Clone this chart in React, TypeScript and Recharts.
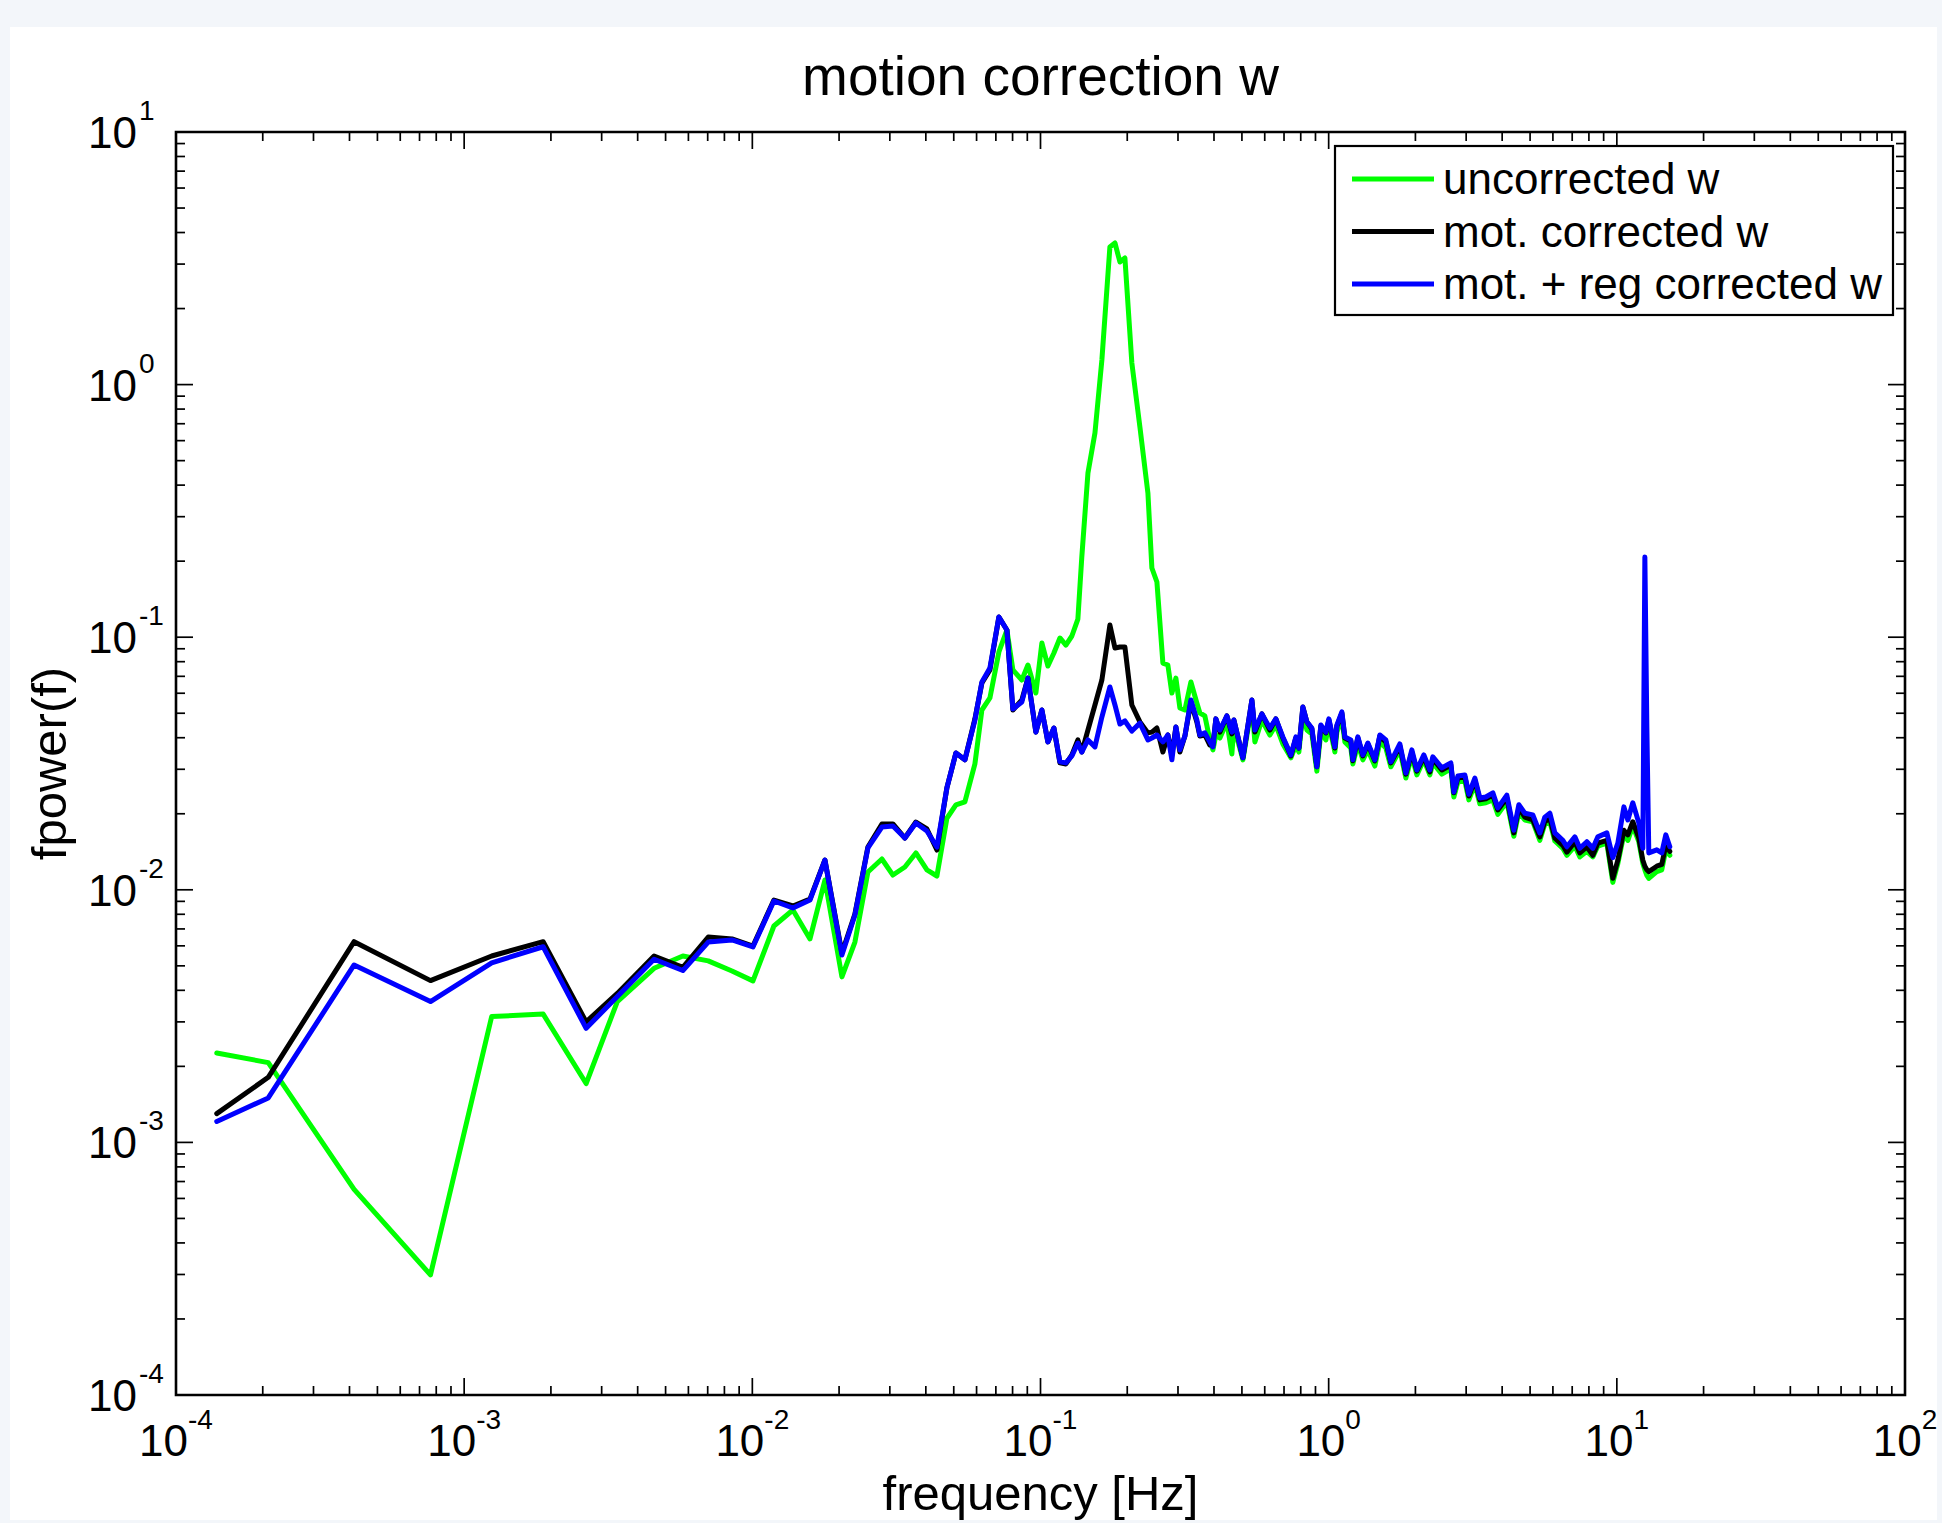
import React from 'react';
import { LineChart, Line, XAxis, YAxis, ReferenceArea } from 'recharts';

// ---------- data ----------
const freq = [
  1.385e-4, 2.09e-4, 4.15e-4, 7.64e-4, 1.246e-3, 1.88e-3, 2.65e-3, 3.4e-3, 4.56e-3, 5.74e-3,
  7.03e-3, 8.5e-3, 1.005e-2, 1.188e-2, 1.383e-2, 1.585e-2, 1.786e-2, 2.046e-2, 2.27e-2, 2.518e-2,
  2.816e-2, 3.075e-2, 3.384e-2, 3.695e-2, 4.035e-2, 4.37e-2, 4.733e-2, 5.087e-2, 5.465e-2, 5.921e-2,
  6.261e-2, 6.675e-2, 7.172e-2, 7.645e-2, 8.02e-2, 8.617e-2, 9.044e-2, 9.638e-2, 0.1011, 0.1061,
  0.1113, 0.1168, 0.1225, 0.1285, 0.1348, 0.1391, 0.1461, 0.1545, 0.1633, 0.1741,
  0.1813, 0.1886, 0.1963, 0.2075, 0.2213, 0.2359, 0.2435, 0.2535, 0.2659, 0.2767,
  0.2857, 0.295, 0.3046, 0.317, 0.3326, 0.3488, 0.3573, 0.3719, 0.387,
  0.3965, 0.4061, 0.4193, 0.4434, 0.4614, 0.4689, 0.504, 0.5414, 0.5545, 0.5864,
  0.6252, 0.6558, 0.6935, 0.7395, 0.7696, 0.7882, 0.8138, 0.8402, 0.8744, 0.9099,
  0.9395, 0.9779, 1.0016, 1.0508, 1.0678, 1.1112, 1.1382, 1.194, 1.2134, 1.2627,
  1.3143, 1.3677, 1.4463, 1.5055, 1.5794, 1.6437, 1.7663, 1.853, 1.9438, 2.023,
  2.1394, 2.2444, 2.2988, 2.4708, 2.6546, 2.7189, 2.8074, 2.9689, 3.0655, 3.2162,
  3.3467, 3.5113, 3.7134, 3.8644, 4.1526, 4.3914, 4.5704, 4.7956, 5.1105, 5.4047,
  5.6262, 5.8553, 6.0945, 6.4958, 6.7073, 7.1504, 7.4413, 7.8694, 8.255, 8.5924,
  9.2327, 9.6849, 10.08, 10.58, 10.92, 11.36, 11.92, 12.31, 12.51, 12.71,
  12.91, 13.76, 14.32, 14.79, 15.27,
];

const uncorrected = [
  2.26e-3, 2.07e-3, 6.52e-4, 2.99e-4, 3.15e-3, 3.22e-3, 1.71e-3, 3.61e-3, 4.89e-3, 5.47e-3,
  5.23e-3, 4.77e-3, 4.36e-3, 7.19e-3, 8.32e-3, 6.39e-3, 1.093e-2, 4.52e-3, 6.21e-3, 1.176e-2,
  1.324e-2, 1.144e-2, 1.231e-2, 1.399e-2, 1.198e-2, 1.134e-2, 1.92e-2, 2.17e-2, 2.23e-2, 3.15e-2,
  5.15e-2, 5.75e-2, 8.74e-2, 0.1068, 7.42e-2, 6.77e-2, 7.76e-2, 6.01e-2, 9.49e-2, 7.69e-2,
  8.66e-2, 9.93e-2, 9.31e-2, 0.1011, 0.118, 0.2077, 0.4467, 0.6434, 1.251, 3.505,
  3.636, 3.058, 3.171, 1.218, 0.6796, 0.3724, 0.1879, 0.1654, 7.9e-2, 7.76e-2,
  6.01e-2, 6.89e-2, 5.25e-2, 5.15e-2, 6.65e-2, 5.49e-2, 5.01e-2, 4.88e-2, 3.92e-2,
  3.58e-2, 4.1e-2, 3.99e-2, 4.62e-2, 3.45e-2, 4.45e-2, 3.27e-2, 5.39e-2, 3.85e-2, 4.7e-2,
  4.1e-2, 4.49e-2, 3.78e-2, 3.33e-2, 3.74e-2, 3.51e-2, 5.06e-2, 4.29e-2, 4.14e-2, 2.95e-2,
  4.21e-2, 3.92e-2, 4.53e-2, 3.51e-2, 4.21e-2, 4.79e-2, 3.85e-2, 3.64e-2, 3.15e-2, 3.78e-2,
  3.27e-2, 3.58e-2, 3.09e-2, 3.85e-2, 3.64e-2, 3.07e-2, 3.58e-2, 2.77e-2, 3.39e-2, 2.85e-2,
  3.27e-2, 2.85e-2, 3.18e-2, 2.87e-2, 3.01e-2, 2.33e-2, 2.67e-2, 2.7e-2, 2.27e-2, 2.62e-2,
  2.19e-2, 2.21e-2, 2.27e-2, 1.99e-2, 2.23e-2, 1.63e-2, 2.03e-2, 1.89e-2, 1.86e-2, 1.57e-2,
  1.82e-2, 1.86e-2, 1.56e-2, 1.46e-2, 1.37e-2, 1.49e-2, 1.35e-2, 1.42e-2, 1.35e-2, 1.49e-2,
  1.53e-2, 1.07e-2, 1.27e-2, 1.66e-2, 1.57e-2, 1.79e-2, 1.55e-2, 1.27e-2, 1.2e-2, 1.14e-2,
  1.11e-2, 1.18e-2, 1.2e-2, 1.44e-2, 1.37e-2,
];

const motCorrected = [
  1.3e-3, 1.81e-3, 6.23e-3, 4.37e-3, 5.47e-3, 6.23e-3, 3.0e-3, 3.89e-3, 5.47e-3, 4.93e-3,
  6.5e-3, 6.39e-3, 5.99e-3, 9.11e-3, 8.63e-3, 9.19e-3, 1.312e-2, 5.62e-3, 8.02e-3, 1.477e-2,
  1.822e-2, 1.822e-2, 1.603e-2, 1.855e-2, 1.741e-2, 1.437e-2, 2.53e-2, 3.48e-2, 3.27e-2, 4.75e-2,
  6.59e-2, 7.42e-2, 0.1202, 0.1068, 5.15e-2, 5.64e-2, 6.89e-2, 4.21e-2, 5.15e-2, 3.85e-2,
  4.37e-2, 3.18e-2, 3.15e-2, 3.42e-2, 3.92e-2, 3.51e-2, 4.29e-2, 5.39e-2, 6.77e-2, 0.1117,
  9.06e-2, 9.15e-2, 9.15e-2, 5.39e-2, 4.62e-2, 4.18e-2, 4.21e-2, 4.37e-2, 3.51e-2, 4.1e-2,
  3.42e-2, 4.41e-2, 3.51e-2, 4.06e-2, 5.54e-2, 4.62e-2, 4.06e-2, 4.1e-2, 3.74e-2,
  3.74e-2, 4.75e-2, 4.21e-2, 4.88e-2, 4.14e-2, 4.7e-2, 3.33e-2, 5.64e-2, 4.21e-2, 4.97e-2,
  4.29e-2, 4.75e-2, 3.99e-2, 3.39e-2, 3.99e-2, 3.64e-2, 5.29e-2, 4.62e-2, 4.33e-2, 3.07e-2,
  4.45e-2, 4.18e-2, 4.7e-2, 3.64e-2, 4.45e-2, 5.01e-2, 3.99e-2, 3.88e-2, 3.24e-2, 3.99e-2,
  3.39e-2, 3.78e-2, 3.24e-2, 4.06e-2, 3.85e-2, 3.18e-2, 3.71e-2, 2.87e-2, 3.51e-2, 2.95e-2,
  3.36e-2, 2.93e-2, 3.3e-2, 2.98e-2, 3.12e-2, 2.42e-2, 2.77e-2, 2.8e-2, 2.35e-2, 2.72e-2,
  2.27e-2, 2.29e-2, 2.37e-2, 2.07e-2, 2.31e-2, 1.68e-2, 2.11e-2, 1.94e-2, 1.89e-2, 1.62e-2,
  1.86e-2, 1.92e-2, 1.6e-2, 1.5e-2, 1.41e-2, 1.55e-2, 1.4e-2, 1.48e-2, 1.37e-2, 1.53e-2,
  1.57e-2, 1.11e-2, 1.31e-2, 1.72e-2, 1.65e-2, 1.86e-2, 1.6e-2, 1.31e-2, 1.24e-2, 1.2e-2,
  1.18e-2, 1.24e-2, 1.26e-2, 1.5e-2, 1.42e-2,
];

const motRegCorrected = [
  1.21e-3, 1.5e-3, 5.04e-3, 3.61e-3, 5.14e-3, 5.95e-3, 2.83e-3, 3.78e-3, 5.31e-3, 4.79e-3,
  6.21e-3, 6.33e-3, 5.94e-3, 9.03e-3, 8.47e-3, 9.11e-3, 1.312e-2, 5.52e-3, 7.95e-3, 1.464e-2,
  1.772e-2, 1.789e-2, 1.603e-2, 1.839e-2, 1.709e-2, 1.477e-2, 2.53e-2, 3.48e-2, 3.27e-2, 4.7e-2,
  6.65e-2, 7.55e-2, 0.1202, 0.1068, 5.2e-2, 5.54e-2, 6.89e-2, 4.21e-2, 5.15e-2, 3.85e-2,
  4.37e-2, 3.21e-2, 3.18e-2, 3.39e-2, 3.81e-2, 3.51e-2, 3.92e-2, 3.68e-2, 4.83e-2, 6.35e-2,
  5.39e-2, 4.53e-2, 4.66e-2, 4.25e-2, 4.57e-2, 3.92e-2, 3.99e-2, 4.1e-2, 3.85e-2, 4.1e-2,
  3.27e-2, 4.41e-2, 3.58e-2, 4.06e-2, 5.64e-2, 4.7e-2, 4.1e-2, 4.18e-2, 3.85e-2,
  3.68e-2, 4.75e-2, 4.29e-2, 4.88e-2, 4.21e-2, 4.7e-2, 3.33e-2, 5.64e-2, 4.29e-2, 4.97e-2,
  4.37e-2, 4.75e-2, 4.03e-2, 3.42e-2, 4.03e-2, 3.64e-2, 5.29e-2, 4.62e-2, 4.37e-2, 3.07e-2,
  4.49e-2, 4.21e-2, 4.75e-2, 3.68e-2, 4.49e-2, 5.06e-2, 4.03e-2, 3.92e-2, 3.27e-2, 4.03e-2,
  3.42e-2, 3.81e-2, 3.27e-2, 4.1e-2, 3.92e-2, 3.21e-2, 3.78e-2, 2.9e-2, 3.58e-2, 2.98e-2,
  3.42e-2, 2.98e-2, 3.36e-2, 3.04e-2, 3.18e-2, 2.44e-2, 2.82e-2, 2.85e-2, 2.39e-2, 2.77e-2,
  2.31e-2, 2.33e-2, 2.42e-2, 2.11e-2, 2.37e-2, 1.72e-2, 2.17e-2, 2.01e-2, 1.98e-2, 1.68e-2,
  1.94e-2, 2.01e-2, 1.68e-2, 1.57e-2, 1.48e-2, 1.62e-2, 1.46e-2, 1.55e-2, 1.46e-2, 1.62e-2,
  1.68e-2, 1.34e-2, 1.53e-2, 2.13e-2, 1.89e-2, 2.21e-2, 1.84e-2, 1.46e-2, 0.2077, 4.41e-2,
  1.4e-2, 1.44e-2, 1.4e-2, 1.65e-2, 1.48e-2,
];

const seriesNames = ['uncorrected w', 'mot. corrected w', 'mot. + reg corrected w'];
const seriesKeys = ['g', 'k', 'b'];
const seriesColors = ['#00ff00', '#000000', '#0000ff'];

const xDecades = [1e-4, 1e-3, 1e-2, 1e-1, 1, 10, 100];
const xDecadeLabels = ['-4', '-3', '-2', '-1', '0', '1', '2'];
const yDecades = [1e-4, 1e-3, 1e-2, 1e-1, 1, 10];
const yDecadeLabels = ['-4', '-3', '-2', '-1', '0', '1'];
const minorMultipliers = [2, 3, 4, 5, 6, 7, 8, 9];

const titleText = 'motion correction w';
const xLabelText = 'frequency [Hz]';
const yLabelText = 'fpower(f)';

// ---------- layout ----------
const W = 1942;
const H = 1523;
const PL = 176;
const PR = 1905;
const PT = 132;
const PB = 1395;
const FONT = '"Liberation Sans", Arial, Helvetica, sans-serif';

const data = freq.map((f, i) => ({
  f,
  g: uncorrected[i],
  k: motCorrected[i],
  b: motRegCorrected[i],
}));

const buildTicks = (decades: number[]) =>
  decades.flatMap((d, i) =>
    i < decades.length - 1 ? [d, ...minorMultipliers.map((m) => m * d)] : [d]
  );
const xTicks = buildTicks(xDecades);
const yTicks = buildTicks(yDecades);

const decadeIndex = (list: number[], v: number) =>
  list.findIndex((d) => Math.abs(v / d - 1) < 1e-6);

const XTick = (props: any) => {
  const { x, payload } = props;
  const di = decadeIndex(xDecades, payload.value);
  const major = di >= 0;
  const len = major ? 17 : 9;
  return (
    <g>
      <line x1={x} x2={x} y1={PB} y2={PB - len} stroke="#000" strokeWidth={1.7} />
      <line x1={x} x2={x} y1={PT} y2={PT + len} stroke="#000" strokeWidth={1.7} />
      {major && (
        <text x={x} y={1456} textAnchor="middle" fontFamily={FONT} fontSize={44} fill="#000">
          10
          <tspan dy={-27} fontSize={28}>
            {xDecadeLabels[di]}
          </tspan>
        </text>
      )}
    </g>
  );
};

const YTick = (props: any) => {
  const { y, payload } = props;
  const di = decadeIndex(yDecades, payload.value);
  const major = di >= 0;
  const len = major ? 17 : 9;
  return (
    <g>
      <line x1={PL} x2={PL + len} y1={y} y2={y} stroke="#000" strokeWidth={1.7} />
      <line x1={PR} x2={PR - len} y1={y} y2={y} stroke="#000" strokeWidth={1.7} />
      {major && (
        <g>
          <text x={137} y={y + 16} textAnchor="end" fontFamily={FONT} fontSize={44} fill="#000">
            10
          </text>
          <text x={139} y={y - 12} textAnchor="start" fontFamily={FONT} fontSize={28} fill="#000">
            {yDecadeLabels[di]}
          </text>
        </g>
      )}
    </g>
  );
};

const legendRows = [179, 231.5, 284];

export default function App() {
  return (
    <div style={{ position: 'absolute', left: 0, top: 0, width: W, height: H, background: '#f3f6fa', overflow: 'hidden' }}>
      <div style={{ position: 'absolute', left: 10, top: 27, width: 1927, height: 1493, background: '#ffffff' }} />
      <div style={{ position: 'absolute', left: 0, top: 0 }}>
        <LineChart
          width={W}
          height={H}
          data={data}
          margin={{ top: PT, right: W - PR, bottom: H - PB - 60, left: PL - 100 }}
        >
          <XAxis
            dataKey="f"
            type="number"
            scale="log"
            domain={[1e-4, 100]}
            ticks={xTicks}
            interval={0}
            tick={<XTick />}
            tickLine={false}
            axisLine={false}
            height={60}
            allowDataOverflow
          />
          <YAxis
            type="number"
            scale="log"
            domain={[1e-4, 10]}
            ticks={yTicks}
            interval={0}
            tick={<YTick />}
            tickLine={false}
            axisLine={false}
            width={100}
            allowDataOverflow
          />
          {seriesKeys.map((key, i) => (
            <Line
              key={key}
              type="linear"
              dataKey={key}
              name={seriesNames[i]}
              stroke={seriesColors[i]}
              strokeWidth={5}
              strokeLinejoin="round"
              strokeLinecap="round"
              dot={false}
              activeDot={false}
              isAnimationActive={false}
            />
          ))}
          <ReferenceArea
            x1={1e-4}
            x2={100}
            y1={1e-4}
            y2={10}
            fill="none"
            fillOpacity={0}
            stroke="#000"
            strokeWidth={2.6}
            ifOverflow="visible"
          />
        </LineChart>
      </div>
      <svg
        width={W}
        height={H}
        style={{ position: 'absolute', left: 0, top: 0, pointerEvents: 'none' }}
      >
        <text x={(PL + PR) / 2} y={95} textAnchor="middle" fontFamily={FONT} fontSize={55} fill="#000">
          {titleText}
        </text>
        <text x={(PL + PR) / 2} y={1510} textAnchor="middle" fontFamily={FONT} fontSize={49} fill="#000">
          {xLabelText}
        </text>
        <text
          transform={`translate(66, ${(PT + PB) / 2}) rotate(-90)`}
          textAnchor="middle"
          fontFamily={FONT}
          fontSize={49}
          fill="#000"
        >
          {yLabelText}
        </text>
        <rect x={1335} y={146} width={558} height={169} fill="#ffffff" stroke="#000" strokeWidth={2.2} />
        {seriesNames.map((name, i) => (
          <g key={name}>
            <line x1={1352} x2={1434} y1={legendRows[i]} y2={legendRows[i]} stroke={seriesColors[i]} strokeWidth={5} />
            <text x={1443} y={legendRows[i] + 15} fontFamily={FONT} fontSize={44} fill="#000">
              {name}
            </text>
          </g>
        ))}
      </svg>
    </div>
  );
}
